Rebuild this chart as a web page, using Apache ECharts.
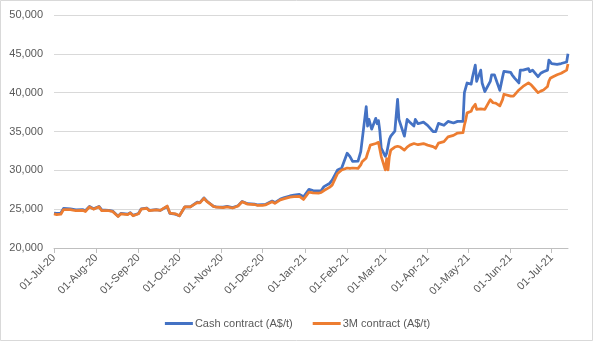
<!DOCTYPE html>
<html>
<head>
<meta charset="utf-8">
<script src="https://cdn.jsdelivr.net/npm/echarts@6/dist/echarts.min.js"></script>
<style>
html,body{margin:0;padding:0;background:#fff;}
#chart{width:595px;height:347px;}
</style>
</head>
<body>
<div id="chart"></div>
<script>
// Axis range (calendar days) and month tick labels
var startDate = '2020-07-01';
var endDate = '2021-07-13';
var tickLabels = ['01-Jul-20','01-Aug-20','01-Sep-20','01-Oct-20','01-Nov-20','01-Dec-20',
  '01-Jan-21','01-Feb-21','01-Mar-21','01-Apr-21','01-May-21','01-Jun-21','01-Jul-21'];
var yTicks = [20000, 25000, 30000, 35000, 40000, 45000, 50000];

// Observation dates
var dates = [
'2020-07-01','2020-07-03','2020-07-06','2020-07-08','2020-07-13','2020-07-17','2020-07-22','2020-07-24','2020-07-27','2020-07-30',
'2020-08-03','2020-08-05','2020-08-10','2020-08-13','2020-08-17','2020-08-19','2020-08-24','2020-08-26','2020-08-28',
'2020-09-01','2020-09-03','2020-09-07','2020-09-09','2020-09-14','2020-09-17','2020-09-18','2020-09-22','2020-09-24','2020-09-28',
'2020-10-01','2020-10-05','2020-10-09','2020-10-14','2020-10-16','2020-10-19','2020-10-21','2020-10-26','2020-10-28',
'2020-11-02','2020-11-05','2020-11-09','2020-11-10','2020-11-13','2020-11-16','2020-11-20','2020-11-25','2020-11-27',
'2020-12-01','2020-12-03','2020-12-08','2020-12-10','2020-12-14','2020-12-17','2020-12-21','2020-12-24','2020-12-28','2020-12-31',
'2021-01-04','2021-01-07','2021-01-11','2021-01-13','2021-01-15','2021-01-19','2021-01-21','2021-01-25','2021-01-28',
'2021-02-01','2021-02-03','2021-02-05','2021-02-09','2021-02-11','2021-02-12','2021-02-15','2021-02-16','2021-02-17','2021-02-18','2021-02-19',
'2021-02-22','2021-02-23','2021-02-24','2021-02-25','2021-02-26',
'2021-03-01','2021-03-02','2021-03-03','2021-03-04','2021-03-05','2021-03-08','2021-03-10','2021-03-11','2021-03-12','2021-03-15','2021-03-17',
'2021-03-19','2021-03-22','2021-03-23','2021-03-25','2021-03-29',
'2021-04-01','2021-04-05','2021-04-07','2021-04-09','2021-04-13','2021-04-16','2021-04-20','2021-04-23','2021-04-27','2021-04-28','2021-04-29','2021-04-30',
'2021-05-03','2021-05-04','2021-05-06','2021-05-07','2021-05-10','2021-05-11','2021-05-13','2021-05-14','2021-05-17','2021-05-18','2021-05-19','2021-05-20',
'2021-05-21','2021-05-24','2021-05-25','2021-05-26','2021-05-27','2021-05-28',
'2021-06-01','2021-06-02','2021-06-03','2021-06-04','2021-06-07','2021-06-08','2021-06-10','2021-06-11','2021-06-14','2021-06-15','2021-06-16','2021-06-17',
'2021-06-18','2021-06-21','2021-06-22','2021-06-23','2021-06-25','2021-06-28','2021-06-29','2021-06-30',
'2021-07-01','2021-07-02','2021-07-05','2021-07-06','2021-07-08','2021-07-09','2021-07-12','2021-07-13'
];

// Cash contract (A$/t)
var cashValues = [
24500,24450,24500,25100,25050,24900,24950,24800,25350,25050,
25350,24900,24850,24750,24100,24450,24350,24550,24200,
24450,25050,25150,24850,24950,24850,24650,25350,24450,24350,
24150,25300,25300,25900,25850,26450,26050,25350,25300,
25250,25350,25200,25150,25450,26000,25700,25650,25550,
25600,25600,26050,25850,26300,26500,26700,26800,26900,26600,
27550,27400,27350,27400,27900,28300,28750,30050,30300,
32200,31800,31150,31200,32400,32600,38200,35700,36550,36550,35300,
36700,36000,36400,35050,32850,
31800,32200,32200,34000,34400,35050,39150,36550,36500,34400,36550,
36200,35700,36550,36000,36200,
35800,35000,35000,36050,35800,36300,36100,36300,36300,40000,40150,41250,
41100,42050,43550,41450,42900,41250,40150,40300,41450,42300,42050,42300,
42100,40300,40150,42000,42750,42750,
42600,42300,42500,41850,41250,42900,42900,42700,43100,42700,42700,42900,
42900,42050,42300,42500,42700,42900,44200,44300,
43750,43550,43650,43750,43750,43800,43950,45000
];

// 3M contract (A$/t)
var threeMValues = [
24400,24300,24350,24950,24950,24800,24850,24700,25300,25000,
25300,24800,24800,24700,24050,24400,24300,24500,24150,
24400,25000,25100,24800,24900,24850,24700,25400,24500,24400,
24150,25300,25300,25850,25800,26400,26000,25350,25250,
25200,25300,25150,25100,25400,25950,25650,25600,25500,
25500,25550,25950,25750,26200,26350,26550,26600,26650,26250,
27200,27100,27050,27150,27400,27800,28100,29600,30050,
30300,30250,30300,30250,30700,31100,31600,32200,32700,33250,33300,
33450,33450,33600,33500,31800,
30050,31500,30050,31800,32600,33000,33100,33250,33000,32600,33000,
33250,33450,33400,33300,33450,
33250,33050,32850,33500,33700,34300,34500,34800,34850,35800,36500,37400,
37600,38050,38500,37850,37900,37850,37850,38100,39100,38900,38700,38650,
38650,38300,38450,39100,39800,39800,
39550,39550,39550,39700,40350,40500,40800,41000,41250,41250,41000,41000,
40600,40000,40150,40200,40350,40800,41500,41850,
42000,42050,42300,42300,42500,42600,42900,43700
];

var monthNames = ['Jan','Feb','Mar','Apr','May','Jun','Jul','Aug','Sep','Oct','Nov','Dec'];
function pad(n){return n<10?'0'+n:''+n;}
function fmtKey(d){return d.getUTCFullYear()+'-'+pad(d.getUTCMonth()+1)+'-'+pad(d.getUTCDate());}
var days = [];
(function(){
  var d = new Date(startDate+'T00:00:00Z');
  var e = new Date(endDate+'T00:00:00Z');
  while (d <= e) { days.push(fmtKey(d)); d = new Date(d.getTime()+86400000); }
})();
function isMonthStart(idx, val){ return val.slice(8) === '01'; }
function labelFor(val){
  var y = +val.slice(0,4), m = +val.slice(5,7);
  var txt = '01-'+monthNames[m-1]+'-'+String(y).slice(2);
  return tickLabels.indexOf(txt) >= 0 ? txt : '';
}

var cashData = dates.map(function(d,i){return [d, cashValues[i]];});
var threeMData = dates.map(function(d,i){return [d, threeMValues[i]];});

var font = 'Liberation Sans';
var chart = echarts.init(document.getElementById('chart'), null, {renderer:'canvas'});
chart.setOption({
  animation: false,
  backgroundColor: '#ffffff',
  graphic: [{
    type: 'rect', shape: {x: 0.5, y: 0.5, width: 592, height: 340},
    style: {fill: 'none', stroke: '#d9d9d9', lineWidth: 1}, silent: true
  }],
  grid: {left: 54, right: 27, top: 15, bottom: 99, containLabel: false},
  legend: {
    bottom: 13, left: 'center',
    itemWidth: 28, itemHeight: 3, itemGap: 20, icon: 'rect',
    textStyle: {fontFamily: font, fontSize: 11, color: '#595959', padding: [0,0,0,-3]},
    data: ['Cash contract (A$/t)', '3M contract (A$/t)']
  },
  xAxis: {
    type: 'category', data: days, boundaryGap: false,
    axisLine: {lineStyle: {color: '#bfbfbf', width: 1}},
    axisTick: {show: true, interval: isMonthStart, length: 5, lineStyle: {color: '#bfbfbf'}},
    axisLabel: {interval: isMonthStart, rotate: 45, margin: 8, formatter: labelFor,
      fontFamily: font, fontSize: 11, color: '#595959'},
    splitLine: {show: false}
  },
  yAxis: {
    type: 'value', min: yTicks[0], max: yTicks[yTicks.length-1], interval: 5000,
    axisLine: {show: false}, axisTick: {show: false},
    axisLabel: {margin: 11, fontFamily: font, fontSize: 11, color: '#595959',
      formatter: function(v){ return v.toLocaleString('en-US'); }},
    splitLine: {lineStyle: {color: '#d9d9d9', width: 1}}
  },
  series: [
    {name: 'Cash contract (A$/t)', type: 'line', data: cashData, showSymbol: false, symbol: 'none',
     lineStyle: {color: '#4472C4', width: 2.75, join: 'round'}, itemStyle: {color: '#4472C4'}},
    {name: '3M contract (A$/t)', type: 'line', data: threeMData, showSymbol: false, symbol: 'none',
     lineStyle: {color: '#ED7D31', width: 2.75, join: 'round'}, itemStyle: {color: '#ED7D31'}}
  ]
});
</script>
</body>
</html>
